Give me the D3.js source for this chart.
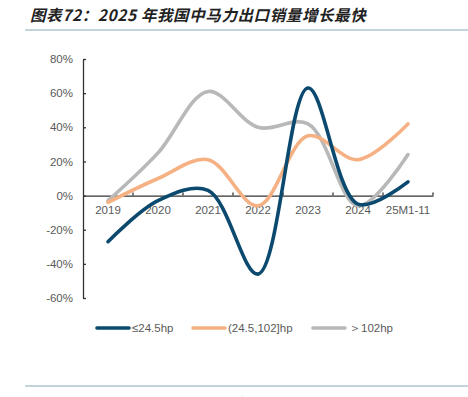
<!DOCTYPE html>
<html><head><meta charset="utf-8">
<script src="https://cdn.jsdelivr.net/npm/d3@7"></script>
<style>
body{margin:0;background:#fff;}
svg{display:block;}
</style></head>
<body><svg id="c" width="468" height="397"></svg>
<script>
const categories = ["2019","2020","2021","2022","2023","2024","25M1-11"];
const seriesNames = ["≤24.5hp","(24.5,102]hp","＞102hp"];
const small = [-27, -3, 3, -46, 63, -5, 8];
const medium = [-4, 10, 21, -6, 35, 21, 42];
const large = [-3, 25, 61, 40, 42, -6, 24];
const yTicks = [-60,-40,-20,0,20,40,60,80];
const colors = ["#0b4a6e","#f5b183","#b8b8b8"];

const svg = d3.select("#c");
const font = "'Liberation Sans', Arial, sans-serif";

// title
svg.append("text").attr("x",30).attr("y",21)
  .attr("font-family","'Noto Sans CJK SC', sans-serif").attr("font-size",15.5)
  .attr("font-weight","bold").attr("font-style","italic").attr("letter-spacing",0.6)
  .attr("fill","#222").text("图表72：2025 年我国中马力出口销量增长最快");
svg.append("line").attr("x1",25).attr("x2",468).attr("y1",30).attr("y2",30)
  .attr("stroke","#8aa6b8").attr("stroke-width",1);
svg.append("line").attr("x1",25).attr("x2",468).attr("y1",386).attr("y2",386)
  .attr("stroke","#8aa6b8").attr("stroke-width",1);
svg.append("text").attr("x",30).attr("y",407)
  .attr("font-family","'Noto Sans CJK SC', sans-serif").attr("font-size",11)
  .attr("fill","#444").text("资料来源：海关总署，国信证券经济研究所整理");

const x = d3.scaleBand().domain(categories).range([83,433]);
const y = d3.scaleLinear().domain([-60,80]).range([298,59]);

// y axis
const ya = svg.append("g").attr("transform","translate(83,0)")
  .call(d3.axisLeft(y).tickValues(yTicks).tickFormat(d=>d+"%").tickSizeInner(-3).tickSizeOuter(0).tickPadding(10));
ya.select(".domain").attr("stroke","#333").attr("stroke-width",1.3);
ya.selectAll(".tick line").attr("stroke","#333").attr("stroke-width",1.3);
ya.selectAll("text").attr("font-family",font).attr("font-size",11.5).attr("fill","#595959");

// x axis at 0
const xa = svg.append("g").attr("transform",`translate(0,${y(0)})`)
  .call(d3.axisBottom(x).tickSize(0).tickPadding(10));
xa.select(".domain").attr("stroke","#333").attr("stroke-width",1.3);
xa.selectAll("text").attr("font-family",font).attr("font-size",11.5).attr("fill","#595959");
// boundary ticks pointing up
const bounds = categories.map((c)=>x(c)+x.bandwidth());
xa.selectAll(".btick").data(bounds).enter().append("line")
  .attr("x1",d=>d).attr("x2",d=>d).attr("y1",0).attr("y2",-3)
  .attr("stroke","#333").attr("stroke-width",1.3);

const line = d3.line().x((d,i)=>x(categories[i])+x.bandwidth()/2).y(d=>y(d))
  .curve(d3.curveCatmullRom.alpha(0.5));
const data = [small, medium, large];
[2,1,0].forEach(k=>{
  svg.append("path").attr("d",line(data[k])).attr("fill","none")
    .attr("stroke",colors[k]).attr("stroke-width",3.6).attr("stroke-linecap","round");
});

// legend
const leg = [{x:97},{x:193},{x:313}];
leg.forEach((l,i)=>{
  svg.append("line").attr("x1",l.x).attr("x2",l.x+32).attr("y1",328).attr("y2",328)
    .attr("stroke",colors[i]).attr("stroke-width",3.6).attr("stroke-linecap","round");
  svg.append("text").attr("x",l.x+35+(i==2?1:0)).attr("y",332).attr("font-family",font)
    .attr("font-size",11.5).attr("fill","#595959").text(seriesNames[i]);
});
</script></body></html>
